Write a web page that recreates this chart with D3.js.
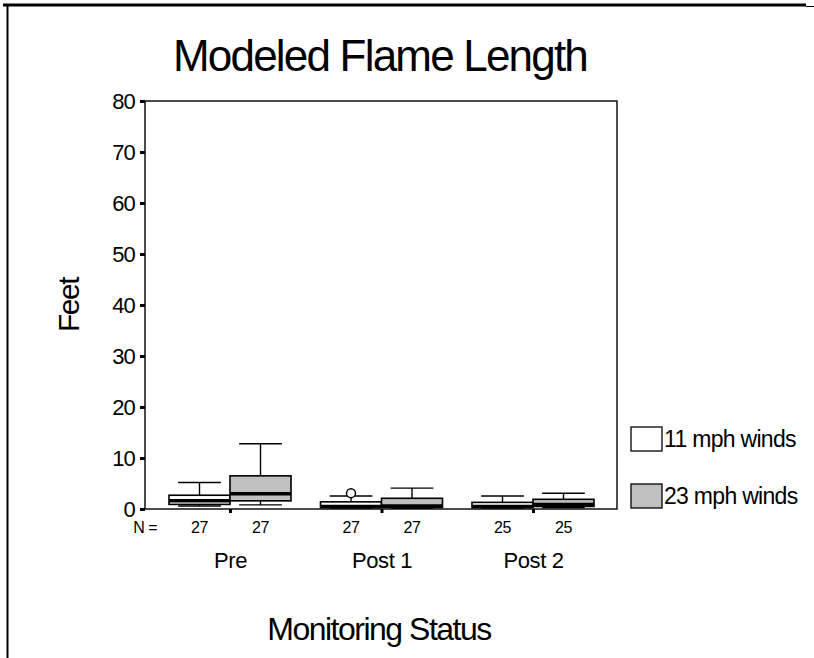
<!DOCTYPE html>
<html>
<head>
<meta charset="utf-8">
<script src="https://cdn.jsdelivr.net/npm/d3@7"></script>
<style>
  body { margin: 0; background: #fff; }
  svg { display: block; font-family: "Liberation Sans", Arial, sans-serif; }
</style>
</head>
<body>
<div id="chart"></div>
<script>
// box plot summaries (feet)
const categories = ["Pre", "Post 1", "Post 2"];
const series = ["11 mph winds", "23 mph winds"];
const seriesFill = ["#ffffff", "#c0c0c0"];

const counts11 = [27, 27, 25];
const counts23 = [27, 27, 25];

const low11 = [0.6, 0.2, 0.2];
const q1_11 = [0.9, 0.3, 0.3];
const med11 = [1.6, 0.5, 0.5];
const q3_11 = [2.7, 1.4, 1.3];
const high11 = [5.2, 2.55, 2.55];

const low23 = [0.8, 0.2, 0.3];
const q1_23 = [1.6, 0.3, 0.5];
const med23 = [3.0, 0.6, 0.9];
const q3_23 = [6.5, 2.1, 1.9];
const high23 = [12.8, 4.1, 3.1];

const outliers = [{ cat: "Post 1", s: 0, value: 3.1 }];

const yTicks = [0, 10, 20, 30, 40, 50, 60, 70, 80];

const width = 814, height = 658;
const plot = { left: 145, right: 617, top: 101, bottom: 509 };

const boxes = [];
categories.forEach((c, i) => {
  boxes.push({ cat: c, s: 0, n: counts11[i], low: low11[i], q1: q1_11[i], med: med11[i], q3: q3_11[i], high: high11[i] });
  boxes.push({ cat: c, s: 1, n: counts23[i], low: low23[i], q1: q1_23[i], med: med23[i], q3: q3_23[i], high: high23[i] });
});

const svg = d3.select("#chart").append("svg")
  .attr("width", width)
  .attr("height", height);

// page border
svg.append("line").attr("x1", 3).attr("x2", 806).attr("y1", 5).attr("y2", 5)
  .attr("stroke", "#000").attr("stroke-width", 3);
svg.append("line").attr("x1", 806).attr("x2", 814).attr("y1", 6.5).attr("y2", 6.5)
  .attr("stroke", "#000").attr("stroke-width", 1);
svg.append("line").attr("x1", 7.5).attr("x2", 7.5).attr("y1", 5).attr("y2", height)
  .attr("stroke", "#000").attr("stroke-width", 2);

const x = d3.scalePoint().domain(categories).range([230, 533]);
const xs = d3.scaleBand().domain([0, 1]).range([-61, 61]);
const y = d3.scaleLinear().domain([0, 80]).range([plot.bottom, plot.top]);

const bw = xs.bandwidth();
const capW = bw * 0.7;

// title
svg.append("text")
  .attr("x", 380).attr("y", 71)
  .attr("text-anchor", "middle")
  .attr("font-size", 44)
  .attr("letter-spacing", -1.8)
  .text("Modeled Flame Length");

// frame
svg.append("rect")
  .attr("x", plot.left).attr("y", plot.top)
  .attr("width", plot.right - plot.left).attr("height", plot.bottom - plot.top)
  .attr("fill", "none").attr("stroke", "#000").attr("stroke-width", 1.4);

// y axis
const yAxis = svg.append("g")
  .attr("transform", `translate(${plot.left},0)`)
  .call(d3.axisLeft(y).tickValues(yTicks).tickSize(5).tickPadding(5));
yAxis.select(".domain").remove();
yAxis.selectAll(".tick line").attr("stroke-width", 3);
yAxis.selectAll(".tick text")
  .attr("font-size", 22).attr("font-family", "Liberation Sans, Arial, sans-serif")
  .attr("letter-spacing", -0.8).attr("fill", "#000");

// x axis
const xAxis = svg.append("g")
  .attr("transform", `translate(0,${plot.bottom})`)
  .call(d3.axisBottom(x).tickSize(4).tickPadding(39));
xAxis.select(".domain").remove();
xAxis.selectAll(".tick line").attr("stroke-width", 3);
xAxis.selectAll(".tick text")
  .attr("font-size", 22).attr("font-family", "Liberation Sans, Arial, sans-serif")
  .attr("letter-spacing", -0.4).attr("fill", "#000");

// N = row
svg.append("text")
  .attr("x", 157).attr("y", 533)
  .attr("text-anchor", "end")
  .attr("font-size", 16)
  .attr("letter-spacing", -0.5)
  .text("N =");
svg.append("g").selectAll("text")
  .data(boxes).join("text")
  .attr("x", d => x(d.cat) + xs(d.s) + bw / 2)
  .attr("y", 533)
  .attr("text-anchor", "middle")
  .attr("font-size", 16)
  .attr("letter-spacing", -0.5)
  .text(d => d.n);

// boxes
const g = svg.append("g").selectAll("g")
  .data(boxes).join("g")
  .attr("transform", d => `translate(${x(d.cat) + xs(d.s)},0)`);

g.append("line")
  .attr("x1", bw / 2).attr("x2", bw / 2)
  .attr("y1", d => y(d.high)).attr("y2", d => y(d.low))
  .attr("stroke", "#000").attr("stroke-width", 1.4);
g.append("line")
  .attr("x1", (bw - capW) / 2).attr("x2", (bw + capW) / 2)
  .attr("y1", d => y(d.high)).attr("y2", d => y(d.high))
  .attr("stroke", "#000").attr("stroke-width", 1.4);
g.append("line")
  .attr("x1", (bw - capW) / 2).attr("x2", (bw + capW) / 2)
  .attr("y1", d => y(d.low)).attr("y2", d => y(d.low))
  .attr("stroke", "#000").attr("stroke-width", 1.4);
g.append("rect")
  .attr("x", 0).attr("width", bw)
  .attr("y", d => y(d.q3)).attr("height", d => y(d.q1) - y(d.q3))
  .attr("fill", d => seriesFill[d.s])
  .attr("stroke", "#000").attr("stroke-width", 1.6);
g.append("line")
  .attr("x1", 0).attr("x2", bw)
  .attr("y1", d => y(d.med)).attr("y2", d => y(d.med))
  .attr("stroke", "#000").attr("stroke-width", 3.5);

// outliers
svg.append("g").selectAll("circle")
  .data(outliers).join("circle")
  .attr("cx", d => x(d.cat) + xs(d.s) + bw / 2)
  .attr("cy", d => y(d.value))
  .attr("r", 4.5)
  .attr("fill", "#fff").attr("stroke", "#000").attr("stroke-width", 1.4);

// axis titles
svg.append("text")
  .attr("x", 379).attr("y", 640)
  .attr("text-anchor", "middle")
  .attr("font-size", 32)
  .attr("letter-spacing", -1.5)
  .text("Monitoring Status");
svg.append("text")
  .attr("transform", "translate(79,305) rotate(-90)")
  .attr("text-anchor", "middle")
  .attr("font-size", 30)
  .attr("letter-spacing", -1.5)
  .text("Feet");

// legend
const legend = svg.append("g").selectAll("g")
  .data(series).join("g")
  .attr("transform", (d, i) => `translate(631,${427 + i * 57})`);
legend.append("rect")
  .attr("width", 31).attr("height", 24)
  .attr("fill", (d, i) => seriesFill[i])
  .attr("stroke", "#000").attr("stroke-width", 1.3);
legend.append("text")
  .attr("x", 33).attr("y", 20)
  .attr("font-size", 23)
  .attr("letter-spacing", -0.7)
  .text(d => d);
</script>
</body>
</html>
